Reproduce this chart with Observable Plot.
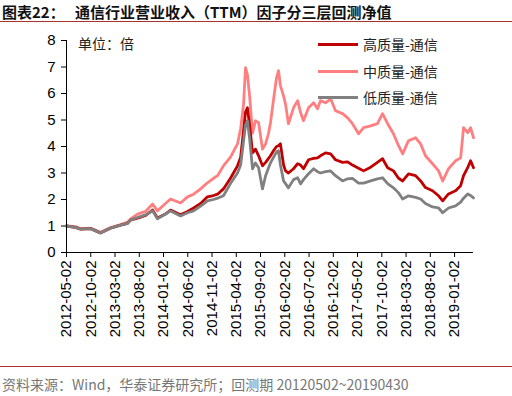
<!DOCTYPE html>
<html><head><meta charset="utf-8">
<script src="https://cdn.jsdelivr.net/npm/d3@7"></script>
<script src="https://cdn.jsdelivr.net/npm/@observablehq/plot@0.6"></script>
<style>
body{margin:0;width:512px;height:396px;overflow:hidden;background:#fff;position:relative;font-family:"Liberation Sans",Arial,sans-serif}
#title{position:absolute;left:0;top:0;width:512px;height:22px;border-bottom:1.5px solid #a8322c;font:bold 15px "Noto Sans CJK SC",sans-serif;line-height:24px;white-space:pre;padding-left:2px;box-sizing:border-box;color:#111}
#chart{position:absolute;left:0;top:24px}
#footer{position:absolute;left:0;top:366px;width:512px;height:30px;border-top:1.5px solid #a8322c;font:14px "Noto Sans CJK SC",sans-serif;color:#777;line-height:34px;padding-left:2px;box-sizing:border-box;white-space:pre}
.lg{position:absolute;font:14px "Noto Sans CJK SC",sans-serif;color:#222;white-space:pre}
.sw{position:absolute;height:3px;width:40px}
</style></head>
<body>
<div id="title">图表22：   通信行业营业收入（TTM）因子分三层回测净值</div>
<div id="chart"></div>
<div id="footer">资料来源：Wind，华泰证券研究所；回测期 20120502~20190430</div>
<script>
const seriesNames = ["中质量-通信", "高质量-通信", "低质量-通信"];
const seriesColors = ["#ff7f80", "#c00000", "#808080"];
const tickLabels = ["2012-05-02","2012-10-02","2013-03-02","2013-08-02","2014-01-02","2014-06-02","2014-11-02","2015-04-02","2015-09-02","2016-02-02","2016-07-02","2016-12-02","2017-05-02","2017-10-02","2018-03-02","2018-08-02","2019-01-02"];
const tickIdx = [0,100,200,300,400,500,600,700,800,900,1000,1100,1200,1300,1400,1500,1600];
// trading-day index since 2012-05-02
const day = [0,37,58,99,140,181,223,252,264,293,326,355,375,408,429,470,499,524,553,581,606,623,647,676,705,718,730,738,746,755,767,779,792,808,821,833,841,854,866,874,
  882,895,903,915,936,953,965,977,998,1019,1035,1047,1068,1089,1109,1138,1159,1179,1204,1225,1254,1282,1303,1324,1348,1369,1386,1410,1439,1460,1480,1509,1534,1551,1575,1604,1625,1637,1654,1666,1678];
const midQ = [1.0,0.98,0.9,0.92,0.76,0.93,1.05,1.15,1.27,1.45,1.55,1.83,1.57,1.85,2.02,1.87,2.1,2.2,2.4,2.63,2.8,2.9,3.27,3.6,4.1,4.67,5.6,6.98,6.7,5.9,4.5,4.97,4.9,3.9,4.1,4.5,4.9,5.8,6.6,6.86,
  6.3,5.9,5.6,4.86,5.46,5.73,5.28,4.97,5.46,5.65,5.42,5.73,5.65,5.8,5.35,5.24,5.08,4.86,4.48,4.71,4.78,4.86,5.24,4.86,4.48,4.03,3.72,4.22,4.33,4.1,3.65,3.35,3.08,2.7,3.16,3.46,3.57,4.71,4.52,4.71,4.33];
const highQ = [1.0,0.95,0.88,0.9,0.74,0.92,1.03,1.1,1.22,1.3,1.4,1.6,1.3,1.45,1.6,1.42,1.55,1.68,1.85,2.1,2.15,2.2,2.4,2.8,3.27,3.6,4.6,5.3,5.46,4.8,3.76,3.9,3.65,3.27,3.4,3.55,3.65,3.85,4.0,4.03,
  4.1,3.3,3.08,3.0,3.16,3.35,3.3,3.16,3.5,3.55,3.57,3.65,3.76,3.72,3.5,3.4,3.42,3.3,3.18,3.08,3.22,3.4,3.54,3.2,3.08,2.8,2.7,2.97,2.9,2.7,2.45,2.33,2.14,1.95,2.21,2.33,2.52,2.9,3.2,3.46,3.2];
const lowQ = [1.0,0.95,0.88,0.9,0.74,0.92,1.03,1.1,1.22,1.32,1.42,1.57,1.27,1.45,1.57,1.38,1.5,1.57,1.75,1.95,2.0,2.05,2.14,2.6,3.0,3.3,4.2,4.8,4.97,4.3,3.16,3.38,3.2,2.4,2.9,3.2,3.38,3.6,3.8,3.84,
  3.3,2.7,2.6,2.44,2.75,2.82,2.59,2.75,2.97,3.16,3.05,3.0,3.05,3.08,2.9,2.7,2.78,2.8,2.62,2.62,2.7,2.78,2.82,2.6,2.44,2.25,2.02,2.14,2.08,2.02,1.85,1.72,1.68,1.5,1.68,1.76,1.9,2.05,2.21,2.15,2.06];
const yTicks = [0,1,2,3,4,5,6,7,8];

const allSeries = [midQ, highQ, lowQ];
const rows = [];
allSeries.forEach((vals, s) => vals.forEach((v, i) => rows.push({s: seriesNames[s], t: day[i], v})));

const chart = Plot.plot({
  width: 512, height: 342,
  marginLeft: 66, marginRight: 39, marginTop: 16, marginBottom: 114,
  style: {fontFamily: "Liberation Sans, Arial, sans-serif", fontSize: "15px", color: "#000", background: "#fff"},
  x: {domain: [0, 1678]},
  y: {domain: [0, 8]},
  color: {domain: seriesNames, range: seriesColors},
  marks: [
    Plot.axisY({ticks: yTicks, tickSize: 5, tickPadding: 6, label: null, tickFormat: d => String(d), fontSize: 15}),
    Plot.axisX({ticks: tickIdx, tickSize: 5, tickPadding: 3, tickRotate: -90, label: null, tickFormat: (d, i) => tickLabels[i], fontSize: 15}),
    Plot.lineY(rows, {x: "t", y: "v", z: "s", stroke: "s", strokeWidth: 2.8, strokeLinejoin: "round"}),
    Plot.ruleX([0], {stroke: "#000", strokeWidth: 1}),
    Plot.ruleY([0], {stroke: "#000", strokeWidth: 1})
  ]
});
document.getElementById("chart").appendChild(chart);

// legend overlay
const legendOrder = [1, 0, 2];
const legendTop = [44, 71, 97];
legendOrder.forEach((s, k) => {
  const sw = document.createElement("div");
  sw.className = "sw"; sw.style.left = "318px"; sw.style.top = (legendTop[k] - 1.5) + "px"; sw.style.background = seriesColors[s];
  document.body.appendChild(sw);
  const tx = document.createElement("div");
  tx.className = "lg"; tx.textContent = seriesNames[s]; tx.style.left = "363px"; tx.style.top = (legendTop[k] - 10) + "px"; tx.style.lineHeight = "20px";
  document.body.appendChild(tx);
});
const unit = document.createElement("div");
unit.className = "lg"; unit.textContent = "单位：倍"; unit.style.left = "78px"; unit.style.top = "33px"; unit.style.lineHeight = "20px";
document.body.appendChild(unit);
</script>
</body></html>
